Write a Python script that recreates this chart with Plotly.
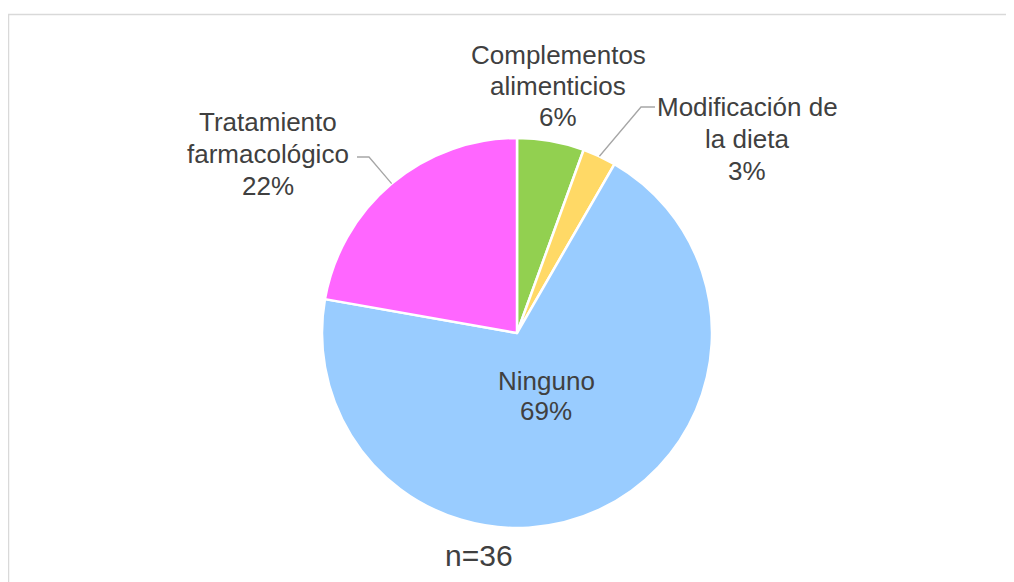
import math
import plotly.graph_objects as go

# data (n=36)
labels = ["Complementos<br>alimenticios", "Modificación de<br>la dieta", "Ninguno", "Tratamiento<br>farmacológico"]
counts = [2, 1, 25, 8]
colors = ["#92D050", "#FFD966", "#99CCFF", "#FF66FF"]
sample_note = "n=36"

OFF = 8                      # page body margin
W, H = 1014 - OFF, 582 - OFF
CX, CY, R = 517, 333, 195   # pie centre / radius in pixels
TXT = "#404040"
FONT = "Liberation Sans, Arial, sans-serif"


def px(x):
    return (x - OFF) / W


def py(y):
    return 1 - (y - OFF) / H


def edge_point(i, r=R):
    """point on the rim at the middle angle of slice i (clockwise from 12 o'clock)"""
    total = sum(counts)
    start = sum(counts[:i]) / total * 360
    mid = math.radians(start + counts[i] / total * 180)
    return CX + r * math.sin(mid), CY - r * math.cos(mid)


pcts = [round(c / sum(counts) * 100) for c in counts]

fig = go.Figure(go.Pie(
    labels=labels,
    values=counts,
    sort=False,
    direction="clockwise",
    rotation=0,
    textinfo="none",
    hoverinfo="label+percent",
    marker=dict(colors=colors, line=dict(color="white", width=2.5)),
    domain=dict(x=[px(CX - R), px(CX + R)], y=[py(CY + R), py(CY - R)]),
    showlegend=False,
))

# label block positions (centre of text, pixels) and line spacing
label_pos = [(558, 86), (747, 139), (546, 396), (268, 154)]
spacing = [31, 32, 30, 32]
annotations = []
for i, (lx, ly) in enumerate(label_pos):
    lines = labels[i].split("<br>") + [f"{pcts[i]}%"]
    n = len(lines)
    for k, t in enumerate(lines):
        yy = ly + (k - (n - 1) / 2) * spacing[i]
        annotations.append(dict(
            x=px(lx), y=py(yy), xref="paper", yref="paper",
            text=t, showarrow=False,
            font=dict(size=26, color=TXT, family=FONT),
            xanchor="center", yanchor="middle",
        ))
annotations.append(dict(
    x=px(479), y=py(555), xref="paper", yref="paper", text=sample_note,
    showarrow=False, font=dict(size=30, color=TXT, family=FONT),
    xanchor="center", yanchor="middle",
))

# leader lines: label end -> elbow -> slice rim
leaders = [(1, (655, 107), (641, 107)), (3, (357, 157), (369, 157))]
shapes = []
for i, (x0, y0), (x1, y1) in leaders:
    ex, ey = edge_point(i)
    shapes.append(dict(
        type="path", xref="paper", yref="paper",
        path=f"M {px(x0)} {py(y0)} L {px(x1)} {py(y1)} L {px(ex)} {py(ey)}",
        line=dict(color="#A6A6A6", width=1.3),
    ))

# chart area frame
shapes.append(dict(
    type="rect", xref="paper", yref="paper",
    x0=px(8.5), y0=-0.05, x1=1.05, y1=py(14.5),
    line=dict(color="#D9D9D9", width=1.5), layer="below",
))

fig.update_layout(
    width=W, height=H,
    margin=dict(l=0, r=0, t=0, b=0),
    paper_bgcolor="white",
    plot_bgcolor="white",
    annotations=annotations,
    shapes=shapes,
)

fig.write_html("out.html")
